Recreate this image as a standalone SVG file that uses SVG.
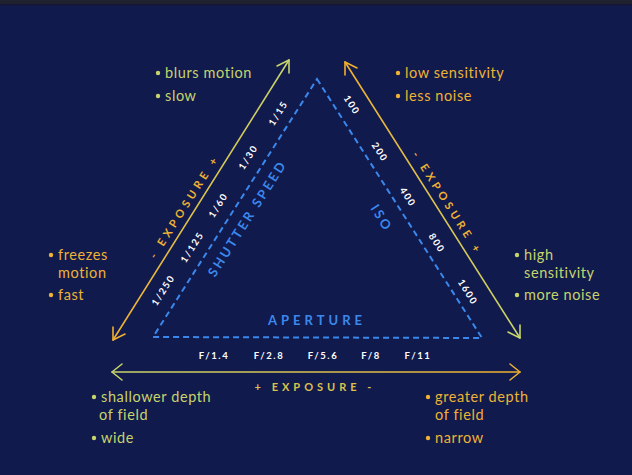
<svg xmlns="http://www.w3.org/2000/svg" width="632" height="475" viewBox="0 0 632 475">
<defs>
<linearGradient id="gL" gradientUnits="userSpaceOnUse" x1="113" y1="340" x2="289" y2="60"><stop offset="0" stop-color="#efaf2f"/><stop offset="1" stop-color="#c6d46c"/></linearGradient>
<linearGradient id="gR" gradientUnits="userSpaceOnUse" x1="345" y1="62" x2="520" y2="338"><stop offset="0" stop-color="#efaf2f"/><stop offset="1" stop-color="#c6d46c"/></linearGradient>
<linearGradient id="gB" gradientUnits="userSpaceOnUse" x1="112" y1="372" x2="520" y2="372"><stop offset="0" stop-color="#c6d46c"/><stop offset="1" stop-color="#efaf2f"/></linearGradient>
<style>
.t{font-family:Lato,"Noto Sans",sans-serif;font-size:14.5px;letter-spacing:0.6px}
.g{fill:#c6d46c}
.o{fill:#efb234}
.num{font-family:Lato,"Noto Sans",sans-serif;font-size:9.5px;font-weight:700;fill:#ffffff;letter-spacing:1.6px;text-anchor:middle;dominant-baseline:central}
.lab{font-family:Lato,"Noto Sans",sans-serif;font-size:13px;font-weight:700;fill:#3b88ec;text-anchor:middle;dominant-baseline:central}
.exp{font-family:Lato,"Noto Sans",sans-serif;font-size:11px;font-weight:700;letter-spacing:4px;text-anchor:middle;dominant-baseline:central}
.dash{fill:none;stroke:#3b88ec;stroke-width:2;stroke-dasharray:6 4}
.ar{fill:none;stroke-width:1.6;stroke-linecap:round;stroke-linejoin:round}
</style>
</defs>
<rect width="632" height="475" fill="#111a4d"/>
<rect width="632" height="4" fill="#202230"/>
<rect y="4" width="632" height="1.5" fill="#141634"/>

<g id="connectors">
<path class="ar" stroke="url(#gL)" d="M113 340 L289 60"/>
<path class="ar" stroke="#c6d46c" d="M277 66 L289 60 L289 73"/>
<path class="ar" stroke="#efaf2f" d="M113 327 L113 340 L125 334"/>
<path class="ar" stroke="url(#gR)" d="M345 62 L520 338"/>
<path class="ar" stroke="#efaf2f" d="M345 75 L345 62 L357 68"/>
<path class="ar" stroke="#c6d46c" d="M508 332 L520 338 L520 325"/>
<path class="ar" stroke="url(#gB)" d="M112 372 L520 372"/>
<path class="ar" stroke="#c6d46c" d="M122 364 L112 372 L122 380"/>
<path class="ar" stroke="#efaf2f" d="M510 364 L520 372 L510 380"/>
</g>

<g id="triangle">
<path class="dash" d="M317 79 L482 338 L153 337 Z"/>
</g>

<g id="shutter">
<text class="lab" letter-spacing="2.6" transform="translate(247 218) rotate(-57.6)">SHUTTER SPEED</text>
<text class="num" transform="translate(163 290) rotate(-57.6)">1/250</text>
<text class="num" transform="translate(192 247) rotate(-57.6)">1/125</text>
<text class="num" transform="translate(218 205) rotate(-57.6)">1/60</text>
<text class="num" transform="translate(248 157) rotate(-57.6)">1/30</text>
<text class="num" transform="translate(278 113) rotate(-57.6)">1/15</text>
<text class="exp o" transform="translate(184 206) rotate(-57.6)">- EXPOSURE +</text>
</g>

<g id="iso">
<text class="lab" letter-spacing="2.6" font-size="15" font-weight="400" transform="translate(382 218) rotate(57.5)">ISO</text>
<text class="num" transform="translate(352 105) rotate(57.5)">100</text>
<text class="num" transform="translate(380 152) rotate(57.5)">200</text>
<text class="num" transform="translate(408 197) rotate(57.5)">400</text>
<text class="num" transform="translate(437 243) rotate(57.5)">800</text>
<text class="num" transform="translate(468 292) rotate(57.5)">1600</text>
<text class="exp o" transform="translate(448 203) rotate(57.5)">- EXPOSURE +</text>
</g>

<g id="aperture">
<text class="lab" letter-spacing="4" x="317" y="320">APERTURE</text>
<text class="num" x="214" y="355">F/1.4</text>
<text class="num" x="269" y="355">F/2.8</text>
<text class="num" x="323" y="355">F/5.6</text>
<text class="num" x="371" y="355">F/8</text>
<text class="num" x="418" y="355">F/11</text>
<text class="exp" fill="#d9c24a" x="315" y="386">+ EXPOSURE -</text>
</g>

<g id="shutter-slow">
<circle class="g" cx="158" cy="73" r="2.2"/><text class="t g" x="165" y="78">blurs motion</text>
<circle class="g" cx="158" cy="96" r="2.2"/><text class="t g" x="165" y="101">slow</text>
</g>
<g id="shutter-fast">
<circle class="o" cx="51" cy="255" r="2.2"/><text class="t o" x="58" y="260">freezes</text>
<text class="t o" x="58" y="277.5">motion</text>
<circle class="o" cx="51" cy="295" r="2.2"/><text class="t o" x="58" y="300">fast</text>
</g>
<g id="iso-low">
<circle class="o" cx="398" cy="73" r="2.2"/><text class="t o" x="405" y="78">low sensitivity</text>
<circle class="o" cx="398" cy="96" r="2.2"/><text class="t o" x="405" y="101">less noise</text>
</g>
<g id="iso-high">
<circle class="g" cx="517" cy="255" r="2.2"/><text class="t g" x="524" y="260">high</text>
<text class="t g" x="524" y="277.5">sensitivity</text>
<circle class="g" cx="517" cy="295" r="2.2"/><text class="t g" x="524" y="300">more noise</text>
</g>
<g id="aperture-wide">
<circle class="g" cx="94" cy="397" r="2.2"/><text class="t g" x="101" y="402">shallower depth</text>
<text class="t g" x="99" y="419.5">of field</text>
<circle class="g" cx="94" cy="438" r="2.2"/><text class="t g" x="101" y="443">wide</text>
</g>
<g id="aperture-narrow">
<circle class="o" cx="428" cy="397" r="2.2"/><text class="t o" x="435" y="402">greater depth</text>
<text class="t o" x="435" y="419.5">of field</text>
<circle class="o" cx="428" cy="438" r="2.2"/><text class="t o" x="435" y="443">narrow</text>
</g>
</svg>
